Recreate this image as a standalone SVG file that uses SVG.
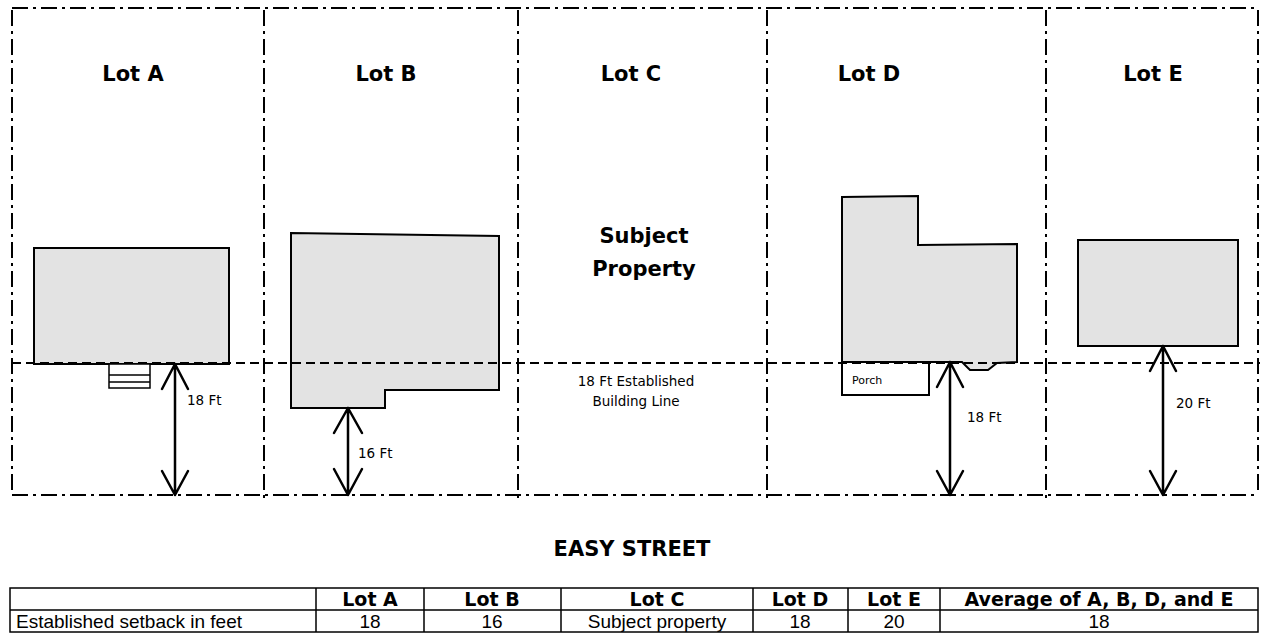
<svg xmlns="http://www.w3.org/2000/svg" width="1264" height="633" viewBox="0 0 1264 633">
<style>
.bnd{fill:none;stroke:#000;stroke-width:2;stroke-dasharray:16 5 3 5}
.bl{fill:none;stroke:#000;stroke-width:2;stroke-dasharray:9 5}
.house{fill:#e3e3e3;stroke:#000;stroke-width:2;stroke-linejoin:miter}
.lot{font-family:"DejaVu Sans",sans-serif;font-weight:bold;font-size:21px;text-anchor:middle}
.dim{font-family:"DejaVu Sans",sans-serif;font-size:13.5px}
.arr{fill:none;stroke:#000;stroke-width:2.5;stroke-linecap:round;stroke-linejoin:round}
.th{font-family:"DejaVu Sans",sans-serif;font-weight:bold;font-size:19px;text-anchor:middle}
.td{font-family:"Liberation Sans Narrow","Liberation Sans",sans-serif;font-size:19px}
.tl{fill:none;stroke:#000;stroke-width:1.5}
</style>
<g id="lot-lines">
<path class="bnd" d="M12,8 H1258"/>
<path class="bnd" d="M12,495 H1258"/>
<path class="bnd" d="M12,10 V495"/>
<path class="bnd" d="M1258,10 V495"/>
<path class="bnd" d="M264,10 V498"/>
<path class="bnd" d="M518,10 V498"/>
<path class="bnd" d="M767,10 V498"/>
<path class="bnd" d="M1046,10 V498"/>
</g>
<g id="lot-a">
<text class="lot" x="133" y="81">Lot A</text>
<rect class="house" x="34" y="248" width="195" height="116"/>
<rect x="109" y="364" width="41" height="24" fill="#fff" stroke="#000" stroke-width="1.5"/>
<path d="M109,375 H150 M109,382 H150" stroke="#000" stroke-width="1.5"/>
</g>
<g id="lot-b">
<text class="lot" x="386" y="81">Lot B</text>
<path class="house" d="M291,233 L499,236 L499,390 L385,390 L385,408 L291,408 Z"/>
</g>
<g id="lot-c">
<text class="lot" x="631" y="81">Lot C</text>
<text class="lot" x="644" y="243">Subject</text>
<text class="lot" x="644" y="276">Property</text>
<text class="dim" x="636" y="386" text-anchor="middle">18 Ft Established</text>
<text class="dim" x="636" y="406" text-anchor="middle">Building Line</text>
</g>
<g id="lot-d">
<text class="lot" x="869" y="81">Lot D</text>
<path class="house" d="M842,197 L918,196 L918,245 L1017,244 L1017,362 L997,363 L988,370 L970,370 L962,362 L842,362 Z"/>
<rect x="842" y="362" width="87" height="33" fill="#fff" stroke="#000" stroke-width="2"/>
<text x="852" y="384" font-family="DejaVu Sans,sans-serif" font-size="11px">Porch</text>
</g>
<g id="lot-e">
<text class="lot" x="1153" y="81">Lot E</text>
<rect class="house" x="1078" y="240" width="160" height="106"/>
</g>
<g id="building-line">
<path class="bl" d="M12,363 H1260"/>
</g>
<g id="connectors">
<path class="arr" d="M175,364 V495 M162,389 L175,364 L188,389 M162,471 L175,495 L188,471"/>
<path class="arr" d="M348,408 V495 M334,433 L348,408 L362,433 M334,469 L348,495 L362,469"/>
<path class="arr" d="M950,362 V495 M937,387 L950,362 L963,387 M937,471 L950,495 L963,471"/>
<path class="arr" d="M1163,346 V495 M1150,371 L1163,346 L1176,371 M1150,471 L1163,495 L1176,471"/>
</g>
<g id="dimension-labels">
<text class="dim" x="187" y="405">18 Ft</text>
<text class="dim" x="358" y="458">16 Ft</text>
<text class="dim" x="967" y="422">18 Ft</text>
<text class="dim" x="1176" y="408">20 Ft</text>
</g>
<text x="632" y="556" font-family="DejaVu Sans,sans-serif" font-weight="bold" font-size="21px" text-anchor="middle">EASY STREET</text>
<g id="table">
<rect class="tl" x="10" y="588" width="1248" height="44"/>
<path class="tl" d="M10,610 H1258 M316,588 V632 M424,588 V632 M561,588 V632 M753,588 V632 M848,588 V632 M940,588 V632"/>
<text class="th" x="370" y="606">Lot A</text>
<text class="th" x="492" y="606">Lot B</text>
<text class="th" x="657" y="606">Lot C</text>
<text class="th" x="800" y="606">Lot D</text>
<text class="th" x="894" y="606">Lot E</text>
<text class="th" x="1099" y="606">Average of A, B, D, and E</text>
<text class="td" x="16" y="628">Established setback in feet</text>
<text class="td" x="370" y="628" text-anchor="middle">18</text>
<text class="td" x="492" y="628" text-anchor="middle">16</text>
<text class="td" x="657" y="628" text-anchor="middle">Subject property</text>
<text class="td" x="800" y="628" text-anchor="middle">18</text>
<text class="td" x="894" y="628" text-anchor="middle">20</text>
<text class="td" x="1099" y="628" text-anchor="middle">18</text>
</g>
</svg>
